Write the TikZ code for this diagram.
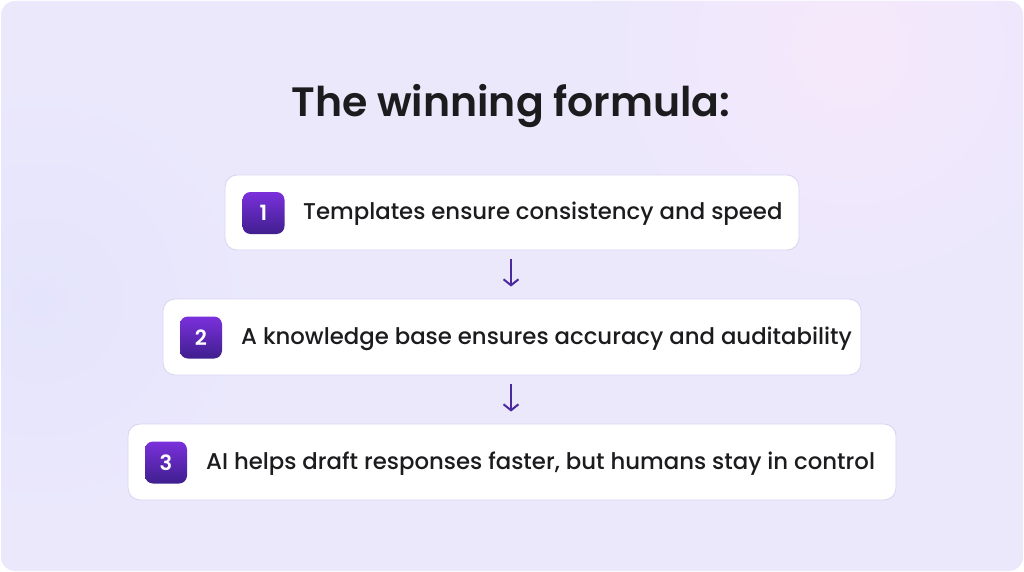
\documentclass[tikz,border=0pt]{standalone}
\usepackage{fontspec}
\setmainfont{Poppins}
\newfontfamily\medfont{Poppins Medium}
\newfontfamily\semifont{Poppins SemiBold}
\usetikzlibrary{arrows.meta,positioning}
\definecolor{bgbase}{HTML}{EBE8FC}
\definecolor{bgpink}{HTML}{F6E8FB}
\definecolor{bgblue}{HTML}{E4E4FC}
\definecolor{boxline}{HTML}{DAD6F2}
\definecolor{badgetop}{HTML}{7B30DC}
\definecolor{badgebot}{HTML}{3F1F8E}
\definecolor{arrowcol}{HTML}{4B2A9E}
\definecolor{textcol}{HTML}{1C1C1F}
\tikzset{
  stepcard/.style={draw=boxline, line width=0.9pt, fill=white, rounded corners=12pt},
  badge/.style={rounded corners=8pt, top color=badgetop, bottom color=badgebot, draw=none,
    minimum width=42pt, minimum height=42pt, inner sep=0pt, text=white,
    font=\fontsize{21}{21}\selectfont\semifont},
  steptext/.style={anchor=west, inner sep=0pt, text=textcol, font=\fontsize{22.8}{24}\selectfont\medfont},
  flowarrow/.style={draw=arrowcol, line width=2pt, -{Straight Barb[length=6pt,width=15pt,line width=2pt]}, shorten <=9pt, shorten >=12pt},
}
\begin{document}
\begin{tikzpicture}[x=1pt,y=-1pt]
\useasboundingbox (0,0) rectangle (1024,572);
\fill[white] (0,0) rectangle (1024,572);
\begin{scope}
\clip[rounded corners=14pt] (1,1) rectangle (1023,571);
\fill[bgbase] (0,0) rectangle (1024,572);
\shade[inner color=bgpink, outer color=bgbase] (850,50) circle[radius=260];
\shade[inner color=bgblue, outer color=bgbase] (40,300) circle[radius=220];
\end{scope}
\node[anchor=base, text=textcol, inner sep=0pt, font=\fontsize{41}{46}\selectfont\semifont] (title) at (511,117) {The winning formula:};

\node[stepcard, minimum width=574pt, minimum height=75pt] (c1) at (512,212.5) {};
\node[stepcard, minimum width=698pt, minimum height=76pt] (c2) at (512,337) {};
\node[stepcard, minimum width=768pt, minimum height=76pt] (c3) at (512,462) {};

\node[badge] (b1) at (263.5,213) {1};
\node[badge] (b2) at (201,337.5) {2};
\node[badge] (b3) at (166,462.5) {3};

\node[steptext] (t1) at (303,214) {Templates ensure consistency and speed};
\node[steptext] (t2) at (241,339) {A knowledge base ensures accuracy and auditability};
\node[steptext] (t3) at (206,464) {AI helps draft responses faster, but humans stay in control};

\draw[flowarrow] (c1.south -| 511,0) -- (c2.north -| 511,0);
\draw[flowarrow] (c2.south -| 511,0) -- (c3.north -| 511,0);
\end{tikzpicture}
\end{document}
